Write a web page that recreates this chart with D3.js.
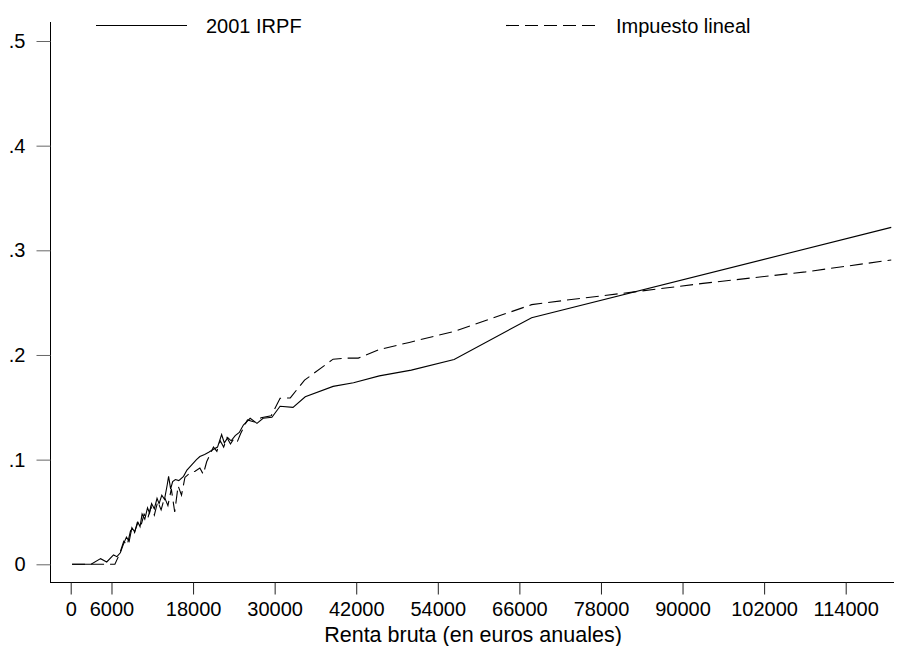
<!DOCTYPE html>
<html>
<head>
<meta charset="utf-8">
<script src="https://cdn.jsdelivr.net/npm/d3@7"></script>
<style>
  body { margin: 0; background: #fff; }
  text { font-family: "Liberation Sans", Arial, sans-serif; fill: #000; }
</style>
</head>
<body>
<div id="chart"></div>
<script>
// renta bruta (euros) / tipo medio
var irpfRenta = [200, 3000, 4400, 5300, 6300, 6800, 7300, 7800, 8200, 8600, 9000, 9400, 9900, 10200,
  10500, 10900, 11300, 11600, 11900, 12300, 12700, 13000, 13400, 13800, 14200, 14400, 14700, 15000,
  15400, 15900, 16600, 17100, 17800, 18500, 19000, 19700, 20300, 21000, 21600, 22200, 22600, 23100,
  23600, 24200, 24800, 25400, 26400, 27400, 28300, 29600, 30800, 32700, 34500, 38600, 41600, 45400,
  50100, 56400, 67800, 120700];
var irpfTipo = [0, 0, 0.0054, 0.0022, 0.0089, 0.0073, 0.011, 0.020, 0.026, 0.022, 0.035, 0.031, 0.040, 0.036,
  0.048, 0.043, 0.054, 0.049, 0.058, 0.053, 0.063, 0.058, 0.066, 0.062, 0.076, 0.084, 0.072, 0.079,
  0.081, 0.080, 0.084, 0.090, 0.095, 0.100, 0.103, 0.105, 0.107, 0.110, 0.112, 0.124, 0.116, 0.121,
  0.118, 0.123, 0.126, 0.133, 0.1395, 0.1347, 0.1395, 0.1405, 0.151, 0.150, 0.160, 0.170, 0.1735, 0.180,
  0.1855, 0.1957, 0.2356, 0.3219];

var linealRenta = [200, 6500, 7200, 7800, 8300, 8800, 9300, 9800, 10300, 10800, 11300, 11800, 12300,
  12800, 13300, 13800, 14300, 14800, 15300, 15800, 16300, 16800, 17500, 18300, 19000, 19500, 20000,
  20500, 21000, 21500, 22000, 22500, 23000, 23500, 24000, 24500, 25000, 26000, 27000, 28000, 29500,
  30800, 32300, 34400, 38600, 40600, 42300, 45500, 49800, 56600, 67800, 72800, 82900, 93000, 108100, 120700];
var linealTipo = [0, 0, 0.010, 0.022, 0.018, 0.032, 0.028, 0.040, 0.036, 0.048, 0.043, 0.055, 0.047,
  0.060, 0.052, 0.064, 0.056, 0.072, 0.050, 0.075, 0.066, 0.083, 0.087, 0.089, 0.092, 0.086, 0.098,
  0.105, 0.112, 0.108, 0.118, 0.112, 0.121, 0.115, 0.120, 0.117, 0.125, 0.138, 0.136, 0.140, 0.142,
  0.1586, 0.159, 0.176, 0.196, 0.197, 0.197, 0.2054, 0.212, 0.2229, 0.2481, 0.2523, 0.2603, 0.2684, 0.2794, 0.2908];

var xTicks = [0, 6000, 18000, 30000, 42000, 54000, 66000, 78000, 90000, 102000, 114000];
var yTicks = [0, 0.1, 0.2, 0.3, 0.4, 0.5];
var seriesNames = ["2001 IRPF", "Impuesto lineal"];

var width = 898;
var height = 646;

var x = d3.scaleLinear().domain([0, 114000]).range([70.7, 845.7]);
var y = d3.scaleLinear().domain([0, 0.5]).range([564.3, 41]);

var svg = d3
  .select("#chart")
  .append("svg")
  .attr("width", width)
  .attr("height", height);

var fontSize = 20;

// ejes
svg.append("line")
  .attr("x1", 50.5).attr("x2", 50.5)
  .attr("y1", 22).attr("y2", 583)
  .attr("stroke", "#000");
svg.append("line")
  .attr("x1", 50).attr("x2", 894)
  .attr("y1", 582.5).attr("y2", 582.5)
  .attr("stroke", "#000");

var yAxis = d3.axisLeft(y)
  .tickValues(yTicks)
  .tickSize(14)
  .tickPadding(11)
  .tickFormat(function (d) {
    return d === 0 ? "0" : d3.format(".1f")(d).replace(/^0/, "");
  });

var gy = svg.append("g")
  .attr("transform", "translate(50.5,0)")
  .call(yAxis);
gy.select(".domain").remove();
gy.selectAll("text").attr("font-size", fontSize).style("font-family", "Liberation Sans, Arial, sans-serif");
gy.selectAll("line").attr("stroke", "#666");

var xAxis = d3.axisBottom(x)
  .tickValues(xTicks)
  .tickSize(12)
  .tickPadding(7)
  .tickFormat(d3.format("d"));

var gx = svg.append("g")
  .attr("transform", "translate(0,582.5)")
  .call(xAxis);
gx.select(".domain").remove();
gx.selectAll("text").attr("font-size", fontSize).style("font-family", "Liberation Sans, Arial, sans-serif");
gx.selectAll("line").attr("stroke", "#222");

svg.append("text")
  .attr("x", 473)
  .attr("y", 642)
  .attr("text-anchor", "middle")
  .attr("font-size", 21.5)
  .text("Renta bruta (en euros anuales)");

// lineas
var line = d3.line()
  .x(function (d) { return x(d[0]); })
  .y(function (d) { return y(d[1]); });

var irpf = d3.zip(irpfRenta, irpfTipo);
var lineal = d3.zip(linealRenta, linealTipo);

svg.append("path")
  .datum(irpf)
  .attr("d", line)
  .attr("fill", "none")
  .attr("stroke", "#000")
  .attr("stroke-width", 1.1);

svg.append("path")
  .datum(lineal)
  .attr("d", line)
  .attr("fill", "none")
  .attr("stroke", "#000")
  .attr("stroke-width", 1.1)
  .attr("stroke-dasharray", "13,6");

// leyenda
var legend = svg.selectAll(".legend")
  .data(seriesNames)
  .enter()
  .append("g")
  .attr("class", "legend")
  .attr("transform", function (d, i) {
    return "translate(" + (96 + i * 410) + ",25.5)";
  });

legend.append("line")
  .attr("x1", 0).attr("x2", 91)
  .attr("y1", 0).attr("y2", 0)
  .attr("stroke", "#000")
  .attr("stroke-width", 1.1)
  .attr("stroke-dasharray", function (d, i) { return i === 1 ? "13,6" : null; });

legend.append("text")
  .attr("x", 110)
  .attr("y", 0)
  .attr("dy", "0.35em")
  .attr("font-size", fontSize)
  .text(function (d) { return d; });
</script>
</body>
</html>
